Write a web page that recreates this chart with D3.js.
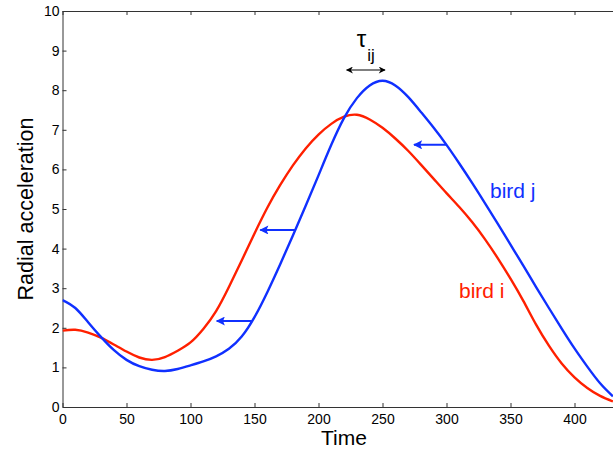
<!DOCTYPE html>
<html>
<head>
<meta charset="utf-8">
<script src="https://cdn.jsdelivr.net/npm/d3@7"></script>
<style>
  html, body { margin: 0; padding: 0; background: #fff; }
  svg { display: block; }
  text { font-family: "Liberation Sans", Arial, Helvetica, sans-serif; }
</style>
</head>
<body>
<svg id="chart" width="613" height="450"></svg>
<script>
// ---- data ----
const times = [0,10,20,30,40,50,60,70,80,90,100,110,120,130,140,150,160,170,180,190,200,
  210,220,230,240,250,260,270,280,290,300,310,320,330,340,350,360,370,380,390,400,410,420,430];
const birdI = [1.93,1.95,1.88,1.75,1.58,1.40,1.25,1.19,1.26,1.42,1.63,1.97,2.42,3.03,3.70,4.38,5.03,5.60,6.10,6.53,6.88,
  7.15,7.33,7.38,7.26,7.05,6.78,6.47,6.12,5.76,5.40,5.05,4.67,4.24,3.76,3.24,2.68,2.08,1.55,1.10,0.75,0.48,0.28,0.14];
const birdJ = [2.70,2.50,2.14,1.77,1.44,1.19,1.03,0.94,0.91,0.96,1.05,1.15,1.28,1.47,1.78,2.27,2.90,3.60,4.33,5.08,5.85,
  6.62,7.30,7.80,8.12,8.24,8.12,7.83,7.45,7.05,6.62,6.15,5.66,5.15,4.63,4.10,3.57,3.03,2.50,1.98,1.48,1.02,0.60,0.27];
const xTicks = [0,50,100,150,200,250,300,350,400];
const yTicks = [0,1,2,3,4,5,6,7,8,9,10];
// shift arrows: start time on bird j, end time (tip), value
const arrowFrom = [148, 182, 300];
const arrowTo = [120.5, 154.5, 274.6];
const arrowVal = [2.17, 4.47, 6.62];
// tau annotation: time span and level
const tauSpan = [222, 252];
const tauLevel = 8.51;
const seriesNames = ["bird i", "bird j"];
const seriesColors = ["#ff2000", "#1030ff"];

// ---- layout ----
const svg = d3.select("#chart");
const mLeft = 62.5, mTop = 11;
const x = d3.scaleLinear().domain([0, 450]).range([mLeft, mLeft + 576]);
const y = d3.scaleLinear().domain([0, 10]).range([mTop + 396, mTop]);

// ---- axes ----
const axisColor = "#333";
const gx = svg.append("g").attr("transform", `translate(0,${y(0)})`)
  .call(d3.axisBottom(x).tickValues(xTicks).tickSizeInner(-4).tickSizeOuter(0).tickPadding(7));
const gxt = svg.append("g").attr("transform", `translate(0,${y(10)})`)
  .call(d3.axisTop(x).tickValues(xTicks).tickSizeInner(-4).tickSizeOuter(0).tickFormat(""));
const gy = svg.append("g").attr("transform", `translate(${x(0)},0)`)
  .call(d3.axisLeft(y).tickValues(yTicks).tickSizeInner(-4).tickSizeOuter(0).tickPadding(3));
[gx, gxt, gy].forEach(g => {
  g.selectAll("path,line").attr("stroke", axisColor).attr("stroke-width", 1);
  g.selectAll("text").attr("fill", "#000").style("font-size", "14px")
    .style("font-family", "'Liberation Sans', Arial, sans-serif");
});

// ---- lines ----
const clip = svg.append("clipPath").attr("id", "plotclip")
  .append("rect").attr("x", mLeft).attr("y", mTop - 5).attr("width", 613 - mLeft).attr("height", 410);
const line = d3.line().x(d => x(d[0])).y(d => y(d[1])).curve(d3.curveNatural);
const series = [birdI, birdJ];
series.forEach((vals, k) => {
  svg.append("path")
    .datum(times.map((t, i) => [t, vals[i]]))
    .attr("clip-path", "url(#plotclip)")
    .attr("fill", "none")
    .attr("stroke", seriesColors[k])
    .attr("stroke-width", 2.4)
    .attr("stroke-linejoin", "round")
    .attr("d", line);
});

// ---- markers (tip at +x, along line direction) ----
const defs = svg.append("defs");
defs.append("marker").attr("id", "blueHead")
  .attr("viewBox", "0 0 10 10").attr("refX", 9).attr("refY", 5)
  .attr("markerWidth", 10).attr("markerHeight", 9).attr("markerUnits", "userSpaceOnUse")
  .attr("orient", "auto")
  .append("path").attr("d", "M0,0 L10,5 L0,10 L2,5 Z").attr("fill", seriesColors[1]);
defs.append("marker").attr("id", "blackHead")
  .attr("viewBox", "0 0 10 10").attr("refX", 9).attr("refY", 5)
  .attr("markerWidth", 8).attr("markerHeight", 7).attr("markerUnits", "userSpaceOnUse")
  .attr("orient", "auto-start-reverse")
  .append("path").attr("d", "M0,0 L10,5 L0,10 L3,5 Z").attr("fill", "#000");

// shift arrows
arrowFrom.forEach((f, i) => {
  svg.append("line")
    .attr("x1", x(f)).attr("y1", y(arrowVal[i]))
    .attr("x2", x(arrowTo[i])).attr("y2", y(arrowVal[i]))
    .attr("stroke", seriesColors[1]).attr("stroke-width", 2)
    .attr("marker-end", "url(#blueHead)");
});

// tau double arrow
svg.append("line")
  .attr("x1", x(tauSpan[0])).attr("y1", y(tauLevel))
  .attr("x2", x(tauSpan[1])).attr("y2", y(tauLevel))
  .attr("stroke", "#000").attr("stroke-width", 1.2)
  .attr("marker-start", "url(#blackHead)").attr("marker-end", "url(#blackHead)");
const tau = svg.append("text")
  .attr("x", x((tauSpan[0] + tauSpan[1]) / 2) - 9).attr("y", 47)
  .attr("fill", "#000").style("font-size", "24px");
tau.append("tspan").text("τ");
tau.append("tspan").attr("dy", 14).attr("dx", 1).style("font-size", "17px").text("ij");

// series labels
svg.append("text").attr("x", 490).attr("y", 198).attr("fill", seriesColors[1])
  .style("font-size", "21px").text(seriesNames[1]);
svg.append("text").attr("x", 459).attr("y", 298).attr("fill", seriesColors[0])
  .style("font-size", "21px").text(seriesNames[0]);

// axis titles
svg.append("text").attr("x", 344).attr("y", 445).attr("text-anchor", "middle")
  .attr("fill", "#000").style("font-size", "21px").text("Time");
svg.append("text").attr("transform", "translate(33,209) rotate(-90)")
  .attr("text-anchor", "middle").attr("fill", "#000")
  .style("font-size", "21.5px").text("Radial acceleration");
</script>
</body>
</html>
